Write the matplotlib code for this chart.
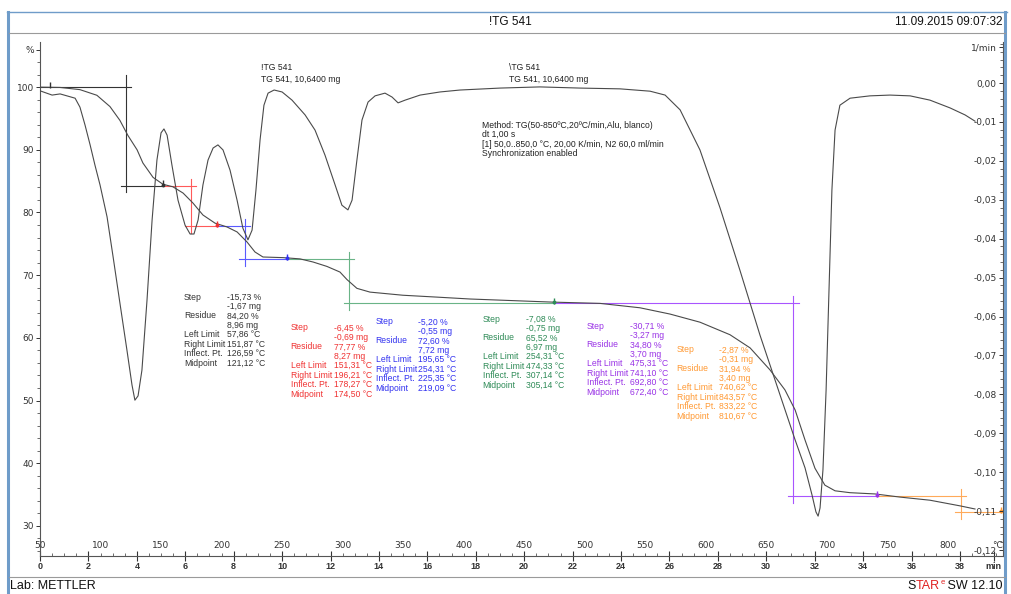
import numpy as np
import matplotlib
matplotlib.use("Agg")
import matplotlib.pyplot as plt
from matplotlib.lines import Line2D
from matplotlib.ticker import FixedLocator, MultipleLocator

# ---------------- data ----------------
# TG curve: time (min) vs mass (%)
tg_time = [0.00, 0.83, 1.65, 2.35, 2.89, 3.30, 3.63, 4.01, 4.25, 4.67,
           5.08, 5.49, 5.91, 6.32, 6.73, 7.23, 7.72, 8.14, 8.55, 8.88,
           9.21, 10.04, 10.74, 11.28, 11.85, 12.39, 12.68, 13.09, 13.63, 14.99,
           16.40, 17.76, 21.19, 23.13, 24.78, 26.02, 27.26, 28.50, 29.33, 30.15,
           30.77, 31.19, 31.60, 32.01, 32.42, 32.84, 33.46, 34.49, 35.52, 36.76,
           38.00, 38.62]
tg_pct = [100.0, 99.95, 99.6, 98.7, 96.9, 94.7, 92.3, 90.0, 87.9, 85.6,
          84.5, 84.1, 83.1, 81.5, 79.6, 78.3, 77.7, 76.9, 75.3, 73.7,
          72.9, 72.8, 72.6, 72.1, 71.4, 70.5, 69.3, 67.9, 67.3, 66.8,
          66.5, 66.2, 65.7, 65.5, 64.8, 63.8, 62.5, 60.5, 58.4, 54.9,
          51.7, 48.5, 43.7, 39.2, 36.5, 35.6, 35.3, 35.1, 34.6, 34.1,
          33.2, 32.7]

# DTG curve: time (min) vs 1/min
dtg_time = [0.00, 0.50, 0.83, 1.45, 1.65, 1.86, 2.07, 2.27, 2.48, 2.77,
            3.02, 3.30, 3.59, 3.80, 3.92, 4.05, 4.21, 4.42, 4.63, 4.83,
            5.00, 5.12, 5.25, 5.45, 5.70, 5.99, 6.20, 6.36, 6.53, 6.73,
            6.94, 7.15, 7.35, 7.56, 7.85, 8.14, 8.38, 8.59, 8.76, 8.92,
            9.09, 9.25, 9.42, 9.67, 10.00, 10.41, 10.95, 11.36, 11.77, 12.19,
            12.47, 12.72, 12.89, 13.09, 13.30, 13.55, 13.84, 14.25, 14.54, 14.79,
            15.08, 15.70, 16.52, 17.35, 19.00, 20.65, 22.30, 23.96, 25.20, 25.82,
            26.44, 27.26, 28.09, 28.91, 29.74, 30.57, 31.19, 31.60, 31.89, 32.05,
            32.14, 32.22, 32.34, 32.47, 32.59, 32.71, 32.84, 33.04, 33.46, 34.28,
            35.11, 35.94, 36.76, 37.59, 38.21, 38.62]
dtg_val = [-0.0020, -0.0031, -0.0028, -0.0039, -0.0062, -0.0108, -0.0159, -0.0211, -0.0262, -0.0344,
           -0.0447, -0.0565, -0.0686, -0.0776, -0.0815, -0.0804, -0.0738, -0.0558, -0.0352, -0.0198,
           -0.0128, -0.0118, -0.0134, -0.0211, -0.0301, -0.0365, -0.0388, -0.0388, -0.0352, -0.0262,
           -0.0198, -0.0167, -0.0159, -0.0172, -0.0224, -0.0301, -0.0373, -0.0403, -0.0378, -0.0275,
           -0.0146, -0.0057, -0.0026, -0.0018, -0.0023, -0.0044, -0.0082, -0.0121, -0.0185, -0.0262,
           -0.0314, -0.0326, -0.0301, -0.0198, -0.0095, -0.0049, -0.0033, -0.0026, -0.0036, -0.0051,
           -0.0044, -0.0031, -0.0023, -0.0018, -0.0013, -0.0010, -0.0013, -0.0015, -0.0021, -0.0031,
           -0.0069, -0.0172, -0.0321, -0.0481, -0.0648, -0.0802, -0.0917, -0.0989, -0.1059, -0.1102,
           -0.1113, -0.1092, -0.0994, -0.0789, -0.0532, -0.0275, -0.0121, -0.0057, -0.0039, -0.0033,
           -0.0031, -0.0033, -0.0044, -0.0064, -0.0082, -0.0098]

# Step evaluations
step_pct = [-15.73, -6.45, -5.20, -7.08, -30.71, -2.87]
step_mg = [-1.67, -0.69, -0.55, -0.75, -3.27, -0.31]
residue_pct = [84.20, 77.77, 72.60, 65.52, 34.80, 31.94]
residue_mg = [8.96, 8.27, 7.72, 6.97, 3.70, 3.40]
left_T = [57.86, 151.31, 195.65, 254.31, 475.31, 740.62]
right_T = [151.87, 196.21, 254.31, 474.33, 741.10, 843.57]
inflect_T = [126.59, 178.27, 225.35, 307.14, 692.80, 833.22]
mid_T = [121.12, 174.50, 219.09, 305.14, 672.40, 810.67]
level_upper = [100.0, 84.3, 77.8, 72.6, 65.5, 34.8]
level_lower = [84.3, 77.8, 72.6, 65.5, 34.8, 32.2]

pct_ticks = [30, 40, 50, 60, 70, 80, 90, 100, 106]
pct_labels = ["30", "40", "50", "60", "70", "80", "90", "100", "%"]
dtg_ticks = [0.0, -0.01, -0.02, -0.03, -0.04, -0.05, -0.06, -0.07, -0.08, -0.09, -0.10, -0.11, -0.12, 0.0093]
dtg_labels = ["0,00", "-0,01", "-0,02", "-0,03", "-0,04", "-0,05", "-0,06", "-0,07", "-0,08", "-0,09",
              "-0,10", "-0,11", "-0,12", "1/min"]
time_ticks = [0, 2, 4, 6, 8, 10, 12, 14, 16, 18, 20, 22, 24, 26, 28, 30, 32, 34, 36, 38, 39.4]
time_labels = ["0", "2", "4", "6", "8", "10", "12", "14", "16", "18", "20", "22", "24", "26", "28",
               "30", "32", "34", "36", "38", "min"]
temp_ticks = [50, 100, 150, 200, 250, 300, 350, 400, 450, 500, 550, 600, 650, 700, 750, 800, 841]
temp_labels = ["50", "100", "150", "200", "250", "300", "350", "400", "450", "500", "550", "600",
               "650", "700", "750", "800", "°C"]

T_START = 50.0
RATE = 20.0  # K/min

text_colors = ["#333333", "#f03232", "#3232f0", "#2e8b57", "#9932e6", "#ff9933"]
line_colors = ["#333333", "#ff5a5a", "#5a5aff", "#6ab487", "#a855ff", "#ffaa5a"]
ANN_FONT = 6.2
ANN_FAMILY = "Liberation Sans"


def T2t(T):
    return (np.asarray(T, dtype=float) - T_START) / RATE


def t2T(t):
    return T_START + RATE * np.asarray(t, dtype=float)


def fmt(v, unit):
    return f"{v:.2f}".replace(".", ",") + " " + unit


# ---------------- figure ----------------
W, H = 1012, 594
fig = plt.figure(figsize=(W / 100, H / 100), dpi=100)
fig.patch.set_facecolor("white")


def fx(x):
    return x / W


def fy(y):
    return 1 - y / H


ax_l, ax_r, ax_t, ax_b = 40, 1003, 42, 556
ax = fig.add_axes([fx(ax_l), fy(ax_b), (ax_r - ax_l) / W, (ax_b - ax_t) / H])
ax.set_facecolor("none")
ax.set_xlim(0, (ax_r - ax_l) / 24.21)
ax.set_ylim(25.2, 107.2)

ax2 = ax.twinx()
ax2.set_ylim(-0.12154, 0.01054)

for a in (ax, ax2):
    for s in a.spines.values():
        s.set_visible(False)
ax.spines["left"].set_visible(True)
ax.spines["bottom"].set_visible(True)
ax2.spines["right"].set_visible(True)
for s in (ax.spines["left"], ax.spines["bottom"], ax2.spines["right"]):
    s.set_color("#555555")
    s.set_linewidth(0.8)

# curves
ax.plot(tg_time, tg_pct, color="#4a4a4a", lw=0.8, zorder=3)
ax2.plot(dtg_time, dtg_val, color="#4a4a4a", lw=0.8, zorder=3)

# step constructions
ext = 0.22
for i in range(len(step_pct)):
    c = line_colors[i]
    tl, tr, tm = T2t(left_T[i]), T2t(right_T[i]), T2t(mid_T[i])
    up, lo = level_upper[i], level_lower[i]
    start = 0.0 if i == 0 else tl
    over_top = 1.9 if i == 0 else 1.1
    ax.plot([start, tm + ext], [up, up], color=c, lw=0.8, zorder=2)
    ax.plot([tm - ext, tr], [lo, lo], color=c, lw=0.8, zorder=2)
    ax.plot([tm, tm], [up + over_top, lo - 1.1], color=c, lw=0.8, zorder=2)
    ax.plot([tr], [lo + 0.35], marker="|", ms=4, mew=1.0, color=text_colors[i], zorder=4)
    ax.plot([tr], [lo + 0.15], marker="o", ms=1.8, color=text_colors[i], zorder=4)
ax.plot([T2t(left_T[0])], [level_upper[0] + 0.35], marker="|", ms=4, mew=1.0, color=text_colors[0], zorder=4)

# axis ticks
ax.yaxis.set_major_locator(FixedLocator(pct_ticks))
ax.set_yticklabels(pct_labels)
ax.yaxis.set_minor_locator(FixedLocator(np.arange(26, 107, 2)))
ax.tick_params(axis="y", which="major", direction="out", length=3, width=0.7, pad=1.5,
               labelsize=6.5, colors="#333333")
ax.tick_params(axis="y", which="minor", direction="out", length=2, width=0.6, colors="#555555")

ax2.yaxis.set_major_locator(FixedLocator(dtg_ticks))
ax2.set_yticklabels(dtg_labels)
ax2.yaxis.set_minor_locator(FixedLocator(np.arange(-0.120, 0.0101, 0.002)))
ax2.tick_params(axis="y", which="major", direction="in", length=3, width=0.7, pad=-4.5,
                labelsize=6.5, colors="#333333")
ax2.tick_params(axis="y", which="minor", direction="in", length=2, width=0.6, colors="#555555")
for lbl in ax2.get_yticklabels():
    lbl.set_horizontalalignment("right")

ax.xaxis.set_major_locator(FixedLocator(time_ticks))
ax.set_xticklabels(time_labels)
ax.xaxis.set_minor_locator(MultipleLocator(0.5))
ax.tick_params(axis="x", which="major", direction="inout", length=7, width=0.8, pad=1,
               labelsize=6.5, colors="#333333")
ax.tick_params(axis="x", which="minor", direction="in", length=2.5, width=0.6, colors="#555555")
for lbl in ax.get_xticklabels():
    lbl.set_fontweight("bold")
    lbl.set_family("Liberation Sans")

sec = ax.secondary_xaxis(0.0, functions=(t2T, T2t))
sec.set_alignment("top")
sec.set_xticks(temp_ticks)
sec.set_xticklabels(temp_labels)
sec.tick_params(axis="x", length=0, pad=4.5, labelsize=6.5, colors="#333333")
for s in sec.spines.values():
    s.set_visible(False)

# annotation blocks (pixel positions of first line, label x, value x)
blocks = [(184, 227, 297), (290.7, 334, 328), (375.7, 418, 322),
          (482.7, 525.7, 319), (586.7, 630, 326), (676.7, 719.3, 350)]
row_names = ["Step", "", "Residue", "", "Left Limit", "Right Limit", "Inflect. Pt.", "Midpoint"]
dy = 9.45
for i, (lx, vx, y0) in enumerate(blocks):
    vals = [fmt(step_pct[i], "%"), fmt(step_mg[i], "mg"), fmt(residue_pct[i], "%"),
            fmt(residue_mg[i], "mg"), fmt(left_T[i], "°C"), fmt(right_T[i], "°C"),
            fmt(inflect_T[i], "°C"), fmt(mid_T[i], "°C")]
    for k in range(8):
        yy = y0 + k * dy
        if row_names[k]:
            fig.text(fx(lx), fy(yy), row_names[k], color=text_colors[i], fontsize=ANN_FONT,
                     va="center", ha="left", family=ANN_FAMILY)
        fig.text(fx(vx), fy(yy), vals[k], color=text_colors[i], fontsize=ANN_FONT,
                 va="center", ha="left", family=ANN_FAMILY)

# curve labels and method
fig.text(fx(261), fy(68), "!TG 541", fontsize=ANN_FONT, va="center", color="#222222", family=ANN_FAMILY)
fig.text(fx(261), fy(79), "TG 541, 10,6400 mg", fontsize=ANN_FONT, va="center", color="#222222",
         family=ANN_FAMILY)
fig.text(fx(509), fy(68), "\\TG 541", fontsize=ANN_FONT, va="center", color="#222222", family=ANN_FAMILY)
fig.text(fx(509), fy(79), "TG 541, 10,6400 mg", fontsize=ANN_FONT, va="center", color="#222222",
         family=ANN_FAMILY)
method = ["Method: TG(50-850ºC,20ºC/min,Alu, blanco)", "dt 1,00 s",
          "[1] 50,0..850,0 °C, 20,00 K/min, N2 60,0 ml/min", "Synchronization enabled"]
for k, s in enumerate(method):
    fig.text(fx(482), fy(125 + k * 9.6), s, fontsize=ANN_FONT, va="center", color="#222222",
             family=ANN_FAMILY)

# frame
frame_blue = "#6f9cc9"
fig.add_artist(Line2D([fx(8), fx(8)], [fy(12), fy(594)], color=frame_blue, lw=2.2))
fig.add_artist(Line2D([fx(1005.5), fx(1005.5)], [fy(12), fy(594)], color=frame_blue, lw=2.2))
fig.add_artist(Line2D([fx(7), fx(1007)], [fy(12), fy(12)], color=frame_blue, lw=1.0))
fig.add_artist(Line2D([fx(9), fx(1005)], [fy(33), fy(33)], color="#9a9a9a", lw=0.8))
fig.add_artist(Line2D([fx(9), fx(1005)], [fy(577), fy(577)], color="#9a9a9a", lw=0.8))

fig.text(fx(510), fy(22), "!TG 541", fontsize=8.5, ha="center", va="center",
         family="Liberation Sans", color="#111111")
fig.text(fx(1003), fy(22), "11.09.2015 09:07:32", fontsize=8.5, ha="right", va="center",
         family="Liberation Sans", color="#111111")
fig.text(fx(10), fy(586), "Lab: METTLER", fontsize=9, ha="left", va="center",
         family="Liberation Sans", color="#111111")

# STARe SW 12.10 logo, laid out left-to-right with measured widths
renderer = fig.canvas.get_renderer()
logo = [("S", "#111111", 9, 0), ("TAR", "#e02020", 9, 0), ("e", "#e02020", 5.5, -3.5),
        (" SW 12.10", "#111111", 9, 0)]
widths = []
for s, c, fs, dyo in logo:
    tmp = fig.text(0, 0, s.replace(" ", "\u00a0"), fontsize=fs, family="Liberation Sans")
    widths.append(tmp.get_window_extent(renderer).width)
    tmp.remove()
xcur = 1003 - sum(widths)
for (s, c, fs, dyo), w in zip(logo, widths):
    fig.text(fx(xcur), fy(586 + dyo), s.replace(" ", "\u00a0"), fontsize=fs, ha="left",
             va="center", family="Liberation Sans", color=c)
    xcur += w

fig.savefig("out.png", dpi=100, facecolor="white")
